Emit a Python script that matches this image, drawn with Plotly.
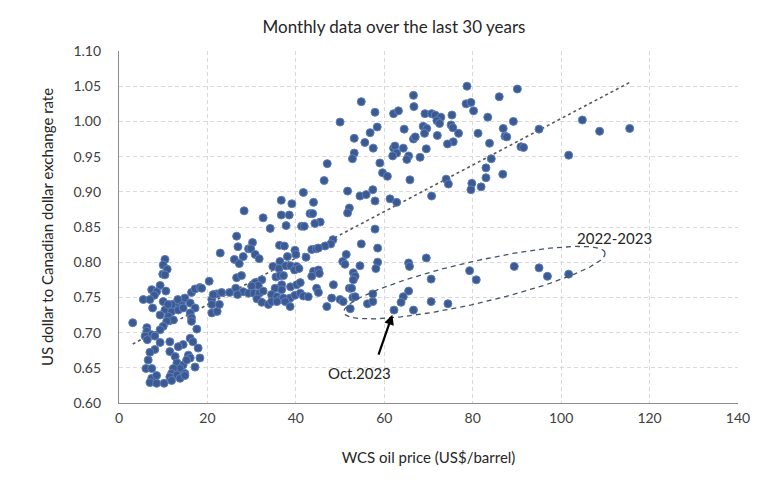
import numpy as np
import plotly.graph_objects as go

wcs_price = [
    10.4, 10.0, 10.9, 9.9, 10.4, 9.3, 7.4, 8.5, 10.6, 8.0, 5.5, 7.0, 10.0, 13.1, 14.2, 14.9, 16.4, 17.2, 18.3, 20.4,
    7.6, 10.4, 11.9, 13.4, 14.5, 16.1, 17.2, 16.1, 9.3, 11.2, 12.3, 10.8, 16.4, 16.4, 3.1, 10.0, 9.3, 6.3, 17.6, 6.3,
    7.4, 5.9, 8.1, 6.4, 9.3, 11.5, 16.1, 16.7, 14.5, 13.4, 17.9, 11.5, 8.1, 7.0, 6.6, 12.7, 15.7, 16.1, 18.3, 13.1,
    14.5, 15.3, 13.8, 12.3, 6.1, 7.4, 17.2, 11.9, 13.1, 14.9, 11.5, 7.4, 8.5, 7.0, 8.5, 10.2, 11.9, 13.8, 14.9, 21.0,
    22.1, 21.0, 22.2, 12.0, 13.3, 11.1,
    41.7, 36.7, 39.1, 28.3, 36.7, 38.5, 32.6, 34.2, 37.8, 41.3, 41.9, 26.6, 30.2, 26.9, 29.3, 29.8, 36.3, 37.4, 22.9, 30.8,
    28.1, 31.7, 26.1, 27.2, 39.8, 38.1, 36.4, 34.8, 36.2, 37.7, 38.8, 40.2, 39.7, 40.7, 26.6, 27.7, 35.5, 36.4, 37.2, 32.3,
    30.8, 31.5, 30.0, 36.8, 35.3, 36.8, 38.8, 40.2, 41.0, 26.4, 28.1, 26.8, 29.3, 30.5, 31.7, 32.6, 18.7, 21.3, 23.2, 25.0,
    21.0, 22.7, 31.2, 32.3, 33.8, 34.5, 35.7, 34.5, 36.4, 37.2, 38.7, 39.8, 35.7, 37.6, 38.7, 41.0, 41.7, 42.8,
    54.8, 57.9, 62.1, 63.2, 50.0, 58.4, 56.8, 53.2, 55.6, 57.5, 62.1, 62.4, 62.8, 61.9, 53.2, 52.8, 47.1, 59.0, 59.6, 60.7,
    46.4, 51.7, 54.5, 55.9, 57.4, 57.9, 61.3, 62.8, 52.1, 51.7, 44.0, 43.2, 43.8, 45.5, 44.3, 57.9,
    78.7, 86.0, 66.6, 66.7, 78.5, 79.6, 80.2, 69.2, 70.7, 71.5, 72.8, 71.9, 72.5, 75.3, 83.4, 68.8, 69.6, 69.1, 75.1, 75.5,
    76.8, 64.5, 81.2, 86.9, 87.3, 87.7, 66.6, 67.0, 72.0, 75.6, 74.3, 83.8, 64.3, 69.5, 65.5, 65.1, 68.1, 84.2, 83.0, 83.0,
    86.8, 65.8, 74.0, 74.5, 79.8, 79.6, 81.9, 70.7,
    90.1, 89.2, 95.0, 104.8, 108.7, 115.5, 90.9, 91.5, 101.7,
    48.4, 47.9, 54.8, 58.5, 46.6, 43.6, 44.6, 45.1, 40.0, 42.3, 51.4, 50.6, 51.1, 58.5, 58.1, 54.5, 44.0, 45.1, 45.3, 43.6,
    53.0, 53.4, 53.0, 48.5, 44.7, 45.1, 52.1, 52.6, 48.1, 50.0, 50.7, 47.0, 52.9, 53.4, 52.3, 56.2, 57.4,
    65.5, 65.7, 69.5, 70.6, 79.3, 80.8, 89.4, 95.0, 96.9, 101.7, 70.6, 74.4, 66.6, 65.5, 64.3, 63.8, 57.4,
]
usd_cad = [
    0.804, 0.796, 0.790, 0.783, 0.782, 0.767, 0.761, 0.758, 0.759, 0.753, 0.747, 0.747, 0.744, 0.742, 0.744, 0.749, 0.757, 0.762, 0.764, 0.773,
    0.735, 0.732, 0.730, 0.732, 0.735, 0.742, 0.735, 0.728, 0.725, 0.723, 0.718, 0.716, 0.721, 0.716, 0.714, 0.709, 0.704, 0.707, 0.705, 0.702,
    0.697, 0.695, 0.695, 0.690, 0.686, 0.687, 0.692, 0.687, 0.683, 0.680, 0.678, 0.673, 0.676, 0.672, 0.661, 0.666, 0.668, 0.664, 0.664, 0.657,
    0.654, 0.661, 0.649, 0.649, 0.649, 0.649, 0.651, 0.642, 0.640, 0.642, 0.637, 0.635, 0.639, 0.629, 0.628, 0.628, 0.632, 0.635, 0.639, 0.747,
    0.755, 0.728, 0.730, 0.740, 0.747, 0.740,
    0.899, 0.888, 0.883, 0.873, 0.867, 0.867, 0.863, 0.848, 0.852, 0.851, 0.851, 0.837, 0.828, 0.822, 0.819, 0.819, 0.824, 0.823, 0.813, 0.811,
    0.808, 0.805, 0.804, 0.798, 0.817, 0.808, 0.801, 0.794, 0.791, 0.795, 0.795, 0.794, 0.789, 0.791, 0.778, 0.781, 0.779, 0.781, 0.781, 0.775,
    0.771, 0.767, 0.766, 0.768, 0.763, 0.761, 0.765, 0.768, 0.771, 0.763, 0.758, 0.754, 0.756, 0.756, 0.756, 0.759, 0.763, 0.754, 0.757, 0.757,
    0.740, 0.740, 0.748, 0.743, 0.740, 0.754, 0.751, 0.744, 0.747, 0.749, 0.749, 0.753, 0.744, 0.744, 0.737, 0.756, 0.752, 0.751,
    1.028, 1.013, 1.011, 1.015, 0.999, 0.992, 0.984, 0.976, 0.970, 0.962, 0.962, 0.965, 0.955, 0.951, 0.955, 0.947, 0.940, 0.941, 0.927, 0.922,
    0.916, 0.901, 0.894, 0.896, 0.903, 0.887, 0.890, 0.885, 0.877, 0.870, 0.885, 0.869, 0.869, 0.857, 0.855, 0.847,
    1.050, 1.035, 1.037, 1.021, 1.025, 1.027, 1.015, 1.011, 1.011, 1.009, 1.006, 1.001, 0.997, 1.009, 1.006, 0.993, 0.990, 0.983, 0.995, 0.991,
    0.983, 0.989, 0.983, 0.990, 0.979, 0.978, 0.975, 0.978, 0.980, 0.971, 0.968, 0.969, 0.962, 0.961, 0.951, 0.946, 0.949, 0.947, 0.934, 0.920,
    0.925, 0.917, 0.918, 0.911, 0.912, 0.903, 0.907, 0.894,
    1.046, 1.000, 0.989, 1.002, 0.986, 0.990, 0.964, 0.963, 0.952,
    0.832, 0.826, 0.826, 0.820, 0.823, 0.818, 0.819, 0.820, 0.811, 0.807, 0.811, 0.801, 0.797, 0.800, 0.791, 0.795, 0.787, 0.789, 0.784, 0.780,
    0.785, 0.780, 0.775, 0.768, 0.763, 0.757, 0.763, 0.763, 0.749, 0.747, 0.744, 0.737, 0.750, 0.751, 0.734, 0.741, 0.744,
    0.799, 0.794, 0.806, 0.776, 0.788, 0.775, 0.794, 0.792, 0.780, 0.783, 0.744, 0.741, 0.732, 0.759, 0.751, 0.743, 0.755,
]

# the October 2023 observation (highlighted with an arrow)
oct2023_price = 62.2
oct2023_rate = 0.732

wcs_price = wcs_price + [oct2023_price]
usd_cad = usd_cad + [oct2023_rate]

x_ticks = [0, 20, 40, 60, 80, 100, 120, 140]
y_ticks = [0.60, 0.65, 0.70, 0.75, 0.80, 0.85, 0.90, 0.95, 1.00, 1.05, 1.10]

# 2022-2023 cluster ellipse (centre in data units, axes in screen pixels)
ell_center_price = 80.4
ell_center_rate = 0.771
ell_semi_major_px = 134
ell_semi_minor_px = 21
ell_angle_deg = 12.9

FONT = "Lato"
TXT = "#404040"

# ---- figure geometry (page has an 8px body margin) ----
W, H = 772, 474
ML, MR, MT, MB = 111, 42, 43, 79
px_per_x = (W - ML - MR) / (x_ticks[-1] - x_ticks[0])
px_per_y = (H - MT - MB) / (y_ticks[-1] - y_ticks[0])

fig = go.Figure()

# linear trend line through the data
slope, intercept = np.polyfit(wcs_price, usd_cad, 1)
tx = np.array([min(wcs_price), max(wcs_price)])
fig.add_trace(go.Scatter(
    x=tx, y=slope * tx + intercept, mode="lines",
    line=dict(color="#595959", width=1.6, dash="dot"),
    hoverinfo="skip", showlegend=False,
))

# scatter points
fig.add_trace(go.Scatter(
    x=wcs_price, y=usd_cad, mode="markers",
    marker=dict(size=8, color="#3D5A8F", line=dict(color="#5B7EC2", width=1)),
    showlegend=False,
))

# dashed ellipse around the 2022-2023 observations
t = np.linspace(0, 2 * np.pi, 240)
th = np.deg2rad(ell_angle_deg)
dxp = ell_semi_major_px * np.cos(t) * np.cos(th) - ell_semi_minor_px * np.sin(t) * np.sin(th)
dyp = ell_semi_major_px * np.cos(t) * np.sin(th) + ell_semi_minor_px * np.sin(t) * np.cos(th)
fig.add_trace(go.Scatter(
    x=ell_center_price + dxp / px_per_x, y=ell_center_rate + dyp / px_per_y,
    mode="lines", line=dict(color="#44546A", width=1.3, dash="5px,4px"),
    hoverinfo="skip", showlegend=False,
))

fig.add_annotation(x=112.0, y=0.834, text="2022-2023", showarrow=False,
                   font=dict(family=FONT, size=15, color="#262626"))
fig.add_annotation(x=54.4, y=0.643, text="Oct.2023", showarrow=False,
                   font=dict(family=FONT, size=15, color="#262626"))
fig.add_annotation(x=oct2023_price, y=oct2023_rate, text="", showarrow=True,
                   ax=-16, ay=46, arrowhead=2, arrowsize=0.9, arrowwidth=2.2,
                   arrowcolor="#000000", standoff=5)

fig.update_layout(
    width=W, height=H,
    margin=dict(l=ML, r=MR, t=MT, b=MB),
    paper_bgcolor="white", plot_bgcolor="white",
    font=dict(family=FONT, size=14, color=TXT),
    title=dict(text="Monthly data over the last 30 years", x=0.5, xref="container",
               y=1 - 19 / H, yref="container", xanchor="center", yanchor="middle",
               font=dict(family=FONT, size=17, color="#262626")),
    xaxis=dict(
        range=[x_ticks[0], x_ticks[-1]], tickvals=x_ticks, ticktext=[str(v) for v in x_ticks],
        showgrid=True, gridcolor="#D9D9D9", gridwidth=1, griddash="4px,3px",
        showline=True, linecolor="#8C8C8C", linewidth=1.3, zeroline=False,
        ticks="", ticklabelstandoff=2,
        title=dict(text="WCS oil price (US$/barrel)", standoff=27,
                   font=dict(family=FONT, size=15, color="#262626")),
    ),
    yaxis=dict(
        range=[y_ticks[0], y_ticks[-1]], tickvals=y_ticks, ticktext=[f"{v:.2f}" for v in y_ticks],
        showgrid=True, gridcolor="#D9D9D9", gridwidth=1, griddash="4px,3px",
        showline=True, linecolor="#8C8C8C", linewidth=1.3, zeroline=False,
        ticks="", ticklabelstandoff=14,
        title=dict(text="US dollar to Canadian dollar exchange rate", standoff=16,
                   font=dict(family=FONT, size=15, color="#262626")),
    ),
)

fig.write_html("out.html")
